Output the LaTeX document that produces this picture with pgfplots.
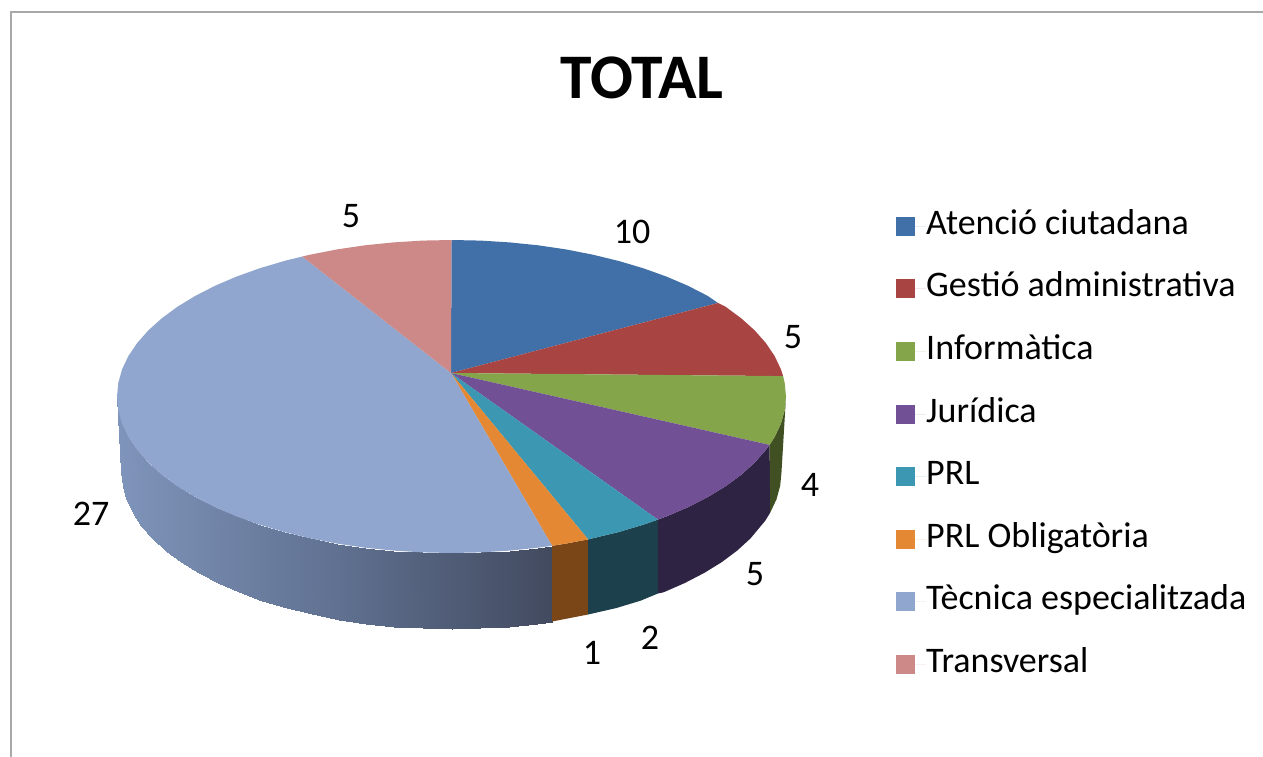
\documentclass[border=0pt]{standalone}
\usepackage{fontspec}
\setmainfont{Carlito}
\usepackage{pgfplots}
\usepgfplotslibrary{patchplots}
\pgfplotsset{compat=1.18}
\definecolor{cBlue}{RGB}{65,112,168}
\definecolor{cRed}{RGB}{168,68,66}
\definecolor{cGreen}{RGB}{133,165,74}
\definecolor{cPurple}{RGB}{113,80,150}
\definecolor{cTeal}{RGB}{60,152,178}
\definecolor{cOrange}{RGB}{228,136,52}
\definecolor{cLight}{RGB}{145,166,206}
\definecolor{cRose}{RGB}{205,137,135}
\definecolor{dGreen}{RGB}{64,80,34}
\definecolor{dPurple}{RGB}{46,35,66}
\definecolor{dTeal}{RGB}{28,64,76}
\definecolor{dOrange}{RGB}{122,70,24}
\begin{document}
\begin{tikzpicture}
\begin{axis}[
  scale only axis, width=1263pt, height=757pt,
  xmin=0, xmax=1263, ymin=0, ymax=757, y dir=reverse,
  hide axis,
  colormap={sideblue}{rgb255=(127,148,186) rgb255=(96,113,145) rgb255=(66,74,95)},
  point meta min=120, point meta max=552,
  legend cell align=left,
  legend image code/.code={\fill[#1] (0pt,-9.5pt) rectangle (19pt,9.5pt);\path (0pt,0pt) -- (30pt,0pt);},
  legend style={at={(axis cs:896,210)}, anchor=north west, draw=none, fill=none,
    inner sep=0pt, row sep=30.6pt,
    font=\fontsize{36}{36}\selectfont,
    nodes={inner sep=0pt, text height=24pt, text depth=8pt}},
]
% page background, sets the picture's extent
\addplot[forget plot, fill=white, draw=none] coordinates {(0,0) (1263,0) (1263,757) (0,757)} --cycle;
% frame
\addplot[forget plot, draw={rgb,255:red,168;green,168;blue,168}, line width=2pt] coordinates {(11,757) (11,12) (1263,12)};
% side walls
\addplot[forget plot, patch, patch type=rectangle, shader=interp, point meta=x] table[row sep=\\] {
x y\\
117 396.5\\ 118.3 410.1\\ 122.7 485.7\\ 121.5 472\\
118.3 410.1\\ 122.1 423.7\\ 126.5 499.3\\ 122.7 485.7\\
122.1 423.7\\ 128.4 437\\ 132.8 512.6\\ 126.5 499.3\\
128.4 437\\ 137.2 450\\ 141.4 525.7\\ 132.8 512.6\\
137.2 450\\ 148.3 462.6\\ 152.4 538.3\\ 141.4 525.7\\
148.3 462.6\\ 161.8 474.8\\ 165.7 550.5\\ 152.4 538.3\\
161.8 474.8\\ 177.5 486.3\\ 181.2 562.1\\ 165.7 550.5\\
177.5 486.3\\ 195.3 497.1\\ 198.7 572.9\\ 181.2 562.1\\
195.3 497.1\\ 215 507.2\\ 218.2 583\\ 198.7 572.9\\
215 507.2\\ 236.5 516.4\\ 239.4 592.3\\ 218.2 583\\
236.5 516.4\\ 259.6 524.7\\ 262.2 600.6\\ 239.4 592.3\\
259.6 524.7\\ 284.2 532\\ 286.5 608\\ 262.2 600.6\\
284.2 532\\ 310.1 538.3\\ 312 614.3\\ 286.5 608\\
310.1 538.3\\ 337.1 543.6\\ 338.6 619.5\\ 312 614.3\\
337.1 543.6\\ 364.9 547.7\\ 366.1 623.6\\ 338.6 619.5\\
364.9 547.7\\ 393.4 550.6\\ 394.2 626.6\\ 366.1 623.6\\
393.4 550.6\\ 422.3 552.4\\ 422.7 628.4\\ 394.2 626.6\\
422.3 552.4\\ 451.5 553\\ 451.5 629\\ 422.7 628.4\\
451.5 553\\ 480.7 552.4\\ 480.3 628.4\\ 451.5 629\\
480.7 552.4\\ 509.6 550.6\\ 508.8 626.6\\ 480.3 628.4\\
509.6 550.6\\ 538.1 547.7\\ 536.9 623.6\\ 508.8 626.6\\
538.1 547.7\\ 552.1 545.8\\ 552.1 621.5\\ 536.9 623.6\\
};
\addplot[forget plot, fill=dOrange, draw=none] coordinates {(552.1,545.8) (565.9,543.6) (588.1,539.4) (588.1,614.5) (552.1,621.5)} --cycle;
\addplot[forget plot, fill=dTeal, draw=none] coordinates {(588.1,539.4) (618.8,532) (643.4,524.7) (657.9,519.6) (657.9,593.5) (640.8,600.6) (616.5,608) (588.1,614.5)} --cycle;
\addplot[forget plot, fill=dPurple, draw=none] coordinates {(657.9,519.6) (666.5,516.4) (688,507.2) (707.7,497.1) (725.5,486.3) (741.2,474.8) (754.7,462.6) (765.8,450) (769.6,444.9) (770.2,512.6) (765.4,520.5) (750.6,538.3) (737.3,550.5) (721.8,562.1) (704.3,572.9) (684.8,583) (663.6,592.3) (657.9,593.5)} --cycle;
\addplot[forget plot, fill=dGreen, draw=none] coordinates {(769.6,444.9) (774.6,437) (780.9,423.7) (784.7,410.1) (786,396.5) (781.5,472) (780.2,485.7) (776.5,499.3) (770.2,512.6)} --cycle;
% top faces, one per category (10, 5, 4, 5, 2, 1, 27, 5)
\addplot[fill=cBlue, draw=none] coordinates {(451,373) (451.5,240) (480.7,240.6) (509.6,242.4) (538.1,245.3) (565.9,249.4) (592.9,254.7) (618.8,261) (643.4,268.3) (666.5,276.6) (688,285.8) (707.7,295.9) (718,303)} --cycle;
\addlegendentry{Atenció ciutadana}
\addplot[fill=cRed, draw=none] coordinates {(451,373) (718,303) (725.5,306.7) (741.2,318.3) (754.7,330.4) (765.8,343) (774.6,356) (780.9,369.3) (783.1,376.1)} --cycle;
\addlegendentry{Gestió administrativa}
\addplot[fill=cGreen, draw=none] coordinates {(451,373) (783.1,376.1) (784.7,382.9) (786,396.5) (784.7,410.1) (780.9,423.7) (774.6,437) (769.6,444.9)} --cycle;
\addlegendentry{Informàtica}
\addplot[fill=cPurple, draw=none] coordinates {(451,373) (769.6,444.9) (765.8,450) (754.7,462.6) (741.2,474.8) (725.5,486.3) (707.7,497.1) (688,507.2) (666.5,516.4) (657.9,519.6)} --cycle;
\addlegendentry{Jurídica}
\addplot[fill=cTeal, draw=none] coordinates {(451,373) (657.9,519.6) (643.4,524.7) (618.8,532) (588.1,539.4)} --cycle;
\addlegendentry{PRL}
\addplot[fill=cOrange, draw=none] coordinates {(451,373) (588.1,539.4) (565.9,543.6) (552.1,545.8)} --cycle;
\addlegendentry{PRL Obligatòria}
\addplot[fill=cLight, draw=none] coordinates {(451,373) (552.1,545.8) (538.1,547.7) (509.6,550.6) (480.7,552.4) (451.5,553) (422.3,552.4) (393.4,550.6) (364.9,547.7) (337.1,543.6) (310.1,538.3) (284.2,532) (259.6,524.7) (236.5,516.4) (215,507.2) (195.3,497.1) (177.5,486.3) (161.8,474.8) (148.3,462.6) (137.2,450) (128.4,437) (122.1,423.7) (118.3,410.1) (117,396.5) (118.3,382.9) (122.1,369.3) (128.4,356) (137.2,343) (148.3,330.4) (161.8,318.3) (177.5,306.7) (195.3,295.9) (215,285.8) (236.5,276.6) (259.6,268.3) (284.2,261) (302.3,256.5)} --cycle;
\addlegendentry{Tècnica especialitzada}
\addplot[fill=cRose, draw=none] coordinates {(451,373) (302.3,256.5) (310.1,254.7) (337.1,249.4) (364.9,245.3) (393.4,242.4) (422.3,240.6) (451.5,240)} --cycle;
\addlegendentry{Transversal}
% labels
\node[font=\fontsize{63.5}{64}\selectfont\bfseries] at (axis cs:642,78) {TOTAL};
\begin{scope}[every node/.style={font=\fontsize{36}{36}\selectfont, inner sep=0pt}]
\node at (axis cs:632,232) {10};
\node at (axis cs:351,216) {5};
\node at (axis cs:793,337) {5};
\node at (axis cs:810,485) {4};
\node at (axis cs:755,574) {5};
\node at (axis cs:650,638) {2};
\node at (axis cs:592,653) {1};
\node at (axis cs:91,514) {27};
\end{scope}
\end{axis}
\end{tikzpicture}
\end{document}
